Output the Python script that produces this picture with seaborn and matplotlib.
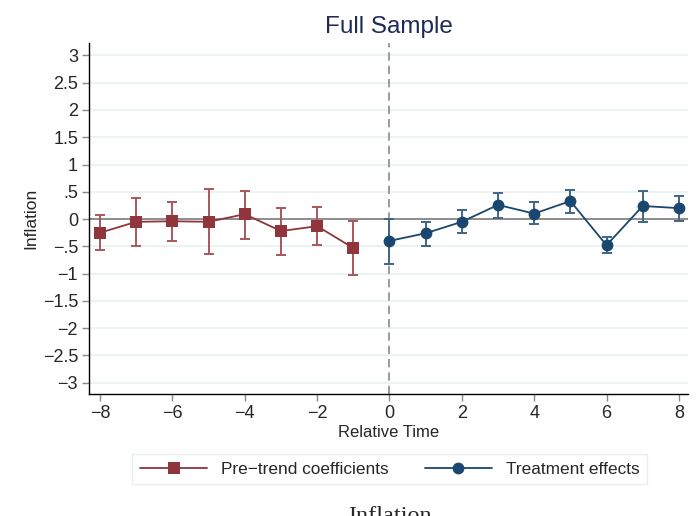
import numpy as np
import pandas as pd
import seaborn as sns
import matplotlib.pyplot as plt
from matplotlib.lines import Line2D

# pre-trend coefficients
pre_time = [-8, -7, -6, -5, -4, -3, -2, -1]
pre_coef = [-0.25, -0.05, -0.04, -0.05, 0.09, -0.22, -0.13, -0.53]
pre_lo = [-0.57, -0.49, -0.40, -0.64, -0.36, -0.65, -0.47, -1.03]
pre_hi = [0.07, 0.39, 0.32, 0.55, 0.52, 0.20, 0.22, -0.04]

# treatment effects
post_time = [0, 1, 2, 3, 4, 5, 6, 7, 8]
post_coef = [-0.40, -0.26, -0.05, 0.26, 0.10, 0.33, -0.48, 0.24, 0.20]
post_lo = [-0.82, -0.50, -0.26, 0.02, -0.09, 0.12, -0.63, -0.06, -0.03]
post_hi = [0.01, -0.05, 0.16, 0.48, 0.31, 0.54, -0.33, 0.51, 0.43]

yticks = np.arange(-3, 3.01, 0.5)
ytick_labels = ["\u22123", "\u22122.5", "\u22122", "\u22121.5", "\u22121", "\u2212.5",
                "0", ".5", "1", "1.5", "2", "2.5", "3"]

red = "#90353b"
red_ci = "#a9565c"
blue = "#1a476f"
blue_ci = "#3f6688"

sns.set_style("white")
plt.rcParams["font.family"] = ["Liberation Sans", "DejaVu Sans"]

fig = plt.figure(figsize=(6.97, 5.16), dpi=100)
ax = fig.add_axes([0.128, 0.236, 0.859, 0.681])

for y in yticks:
    if y != 0:
        ax.axhline(y, color="#e9f1f3", lw=1.2, zorder=0)
ax.axhline(0, color="#7a7a7a", lw=1.2, zorder=1)
ax.axvline(0, color="#8a8a8a", lw=1.2, ls=(0, (5, 3)), zorder=1)

pre = pd.DataFrame({"t": pre_time, "b": pre_coef, "lo": pre_lo, "hi": pre_hi})
post = pd.DataFrame({"t": post_time, "b": post_coef, "lo": post_lo, "hi": post_hi})

ax.errorbar(pre["t"], pre["b"], yerr=[pre["b"] - pre["lo"], pre["hi"] - pre["b"]],
            fmt="none", ecolor=red_ci, elinewidth=1.4, capsize=3.6, capthick=1.4, zorder=2)
ax.errorbar(post["t"], post["b"], yerr=[post["b"] - post["lo"], post["hi"] - post["b"]],
            fmt="none", ecolor=blue_ci, elinewidth=1.4, capsize=3.6, capthick=1.4, zorder=2)

sns.lineplot(data=pre, x="t", y="b", ax=ax, color=red, lw=1.3, marker="s",
             markersize=8, markeredgewidth=0, zorder=3)
sns.lineplot(data=post, x="t", y="b", ax=ax, color=blue, lw=1.3, marker="o",
             markersize=8.5, markeredgewidth=0, zorder=3)

ax.set_xlim(-8.3, 8.25)
ax.set_ylim(-3.21, 3.23)
ax.set_xticks(range(-8, 9, 2))
ax.set_xticklabels(["\u22128", "\u22126", "\u22124", "\u22122", "0", "2", "4", "6", "8"])
ax.set_yticks(yticks)
ax.set_yticklabels(ytick_labels)
ax.tick_params(axis="both", direction="out", length=5, width=1, color="#8a8a8a",
               labelsize=13, pad=3, left=True, bottom=True)

for s in ["top", "right"]:
    ax.spines[s].set_visible(False)
for s in ["left", "bottom"]:
    ax.spines[s].set_color("black")
    ax.spines[s].set_linewidth(1.0)

ax.set_xlabel("Relative Time", fontsize=12, labelpad=2)
ax.set_ylabel("Inflation", fontsize=12.5, labelpad=3)
ax.set_title("Full Sample", fontsize=17.5, color="#1e2b55", pad=7)

handles = [
    Line2D([], [], color=red, lw=1.3, marker="s", markersize=8, markeredgewidth=0),
    Line2D([], [], color=blue, lw=1.3, marker="o", markersize=8.5, markeredgewidth=0),
]
leg = fig.legend(handles, ["Pre\u2212trend coefficients", "Treatment effects"],
                 loc="center", bbox_to_anchor=(0.559, 0.091), ncol=2, fontsize=12.4,
                 handlelength=3.9, columnspacing=2.1, fancybox=False,
                 frameon=True, borderpad=0.45)
leg.get_frame().set_edgecolor("#e3ecee")
leg.get_frame().set_linewidth(1.0)

fig.text(0.559, -0.012, "Inflation", family=["Liberation Serif", "DejaVu Serif"],
         fontsize=17.5, ha="center", va="baseline")

fig.savefig("out.png", dpi=100)
